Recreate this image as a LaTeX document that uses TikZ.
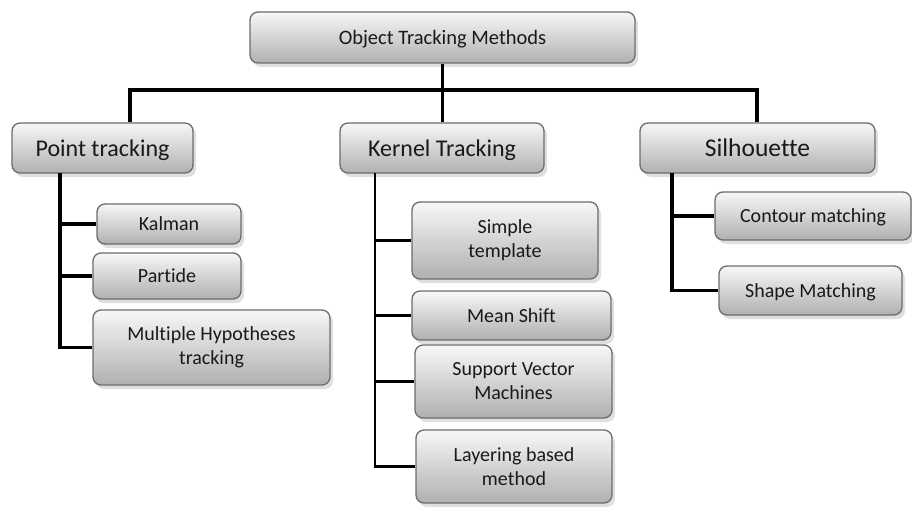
\documentclass[tikz,border=0pt]{standalone}
\usepackage{fontspec}
\setmainfont{Carlito}[Ligatures=NoCommon]
\usetikzlibrary{shadows}

\tikzset{
  box/.style={draw=gray!85!black, line width=1.3pt, rounded corners=8pt,
    top color=gray!6, bottom color=gray!62, text=black!90,
    drop shadow={opacity=0.25, shadow xshift=3pt, shadow yshift=-4pt},
    inner sep=0pt, align=center, font=\fontsize{20}{24}\selectfont},
  size/.style 2 args={minimum width=#1pt, minimum height=#2pt},
  low/.style={text depth=0pt},
  link/.style={line width=3.5pt},
  thinlink/.style={line width=2.3pt}
}

\begin{document}
\begin{tikzpicture}[x=1pt, y=-1pt]
  \useasboundingbox[fill=white] (0,0) rectangle (912,508);

  % top level
  \node[box, low, size={385}{51}, font=\fontsize{20.5}{22}\selectfont] (root) at (442.5,37.5) {Object Tracking Methods};

  % second level
  \node[box, low, size={181}{50}, font=\fontsize{24}{26}\selectfont] (point) at (102.5,148) {Point tracking};
  \node[box, low, size={204}{50}, font=\fontsize{24}{26}\selectfont] (kernel) at (442,148) {Kernel Tracking};
  \node[box, low, size={235}{50}, font=\fontsize{25.5}{28}\selectfont] (sil) at (757.5,148) {Silhouette};

  % point tracking children
  \node[box, low, size={144}{40}] (kalman) at (169,224) {Kalman};
  \node[box, low, size={148}{46}] (partide) at (167,276) {Partide};
  \node[box, size={237}{75}] (mht) at (211.5,347.5) {Multiple Hypotheses\\tracking};

  % kernel tracking children
  \node[box, size={186}{77}] (simple) at (505,240.5) {Simple\\template};
  \node[box, low, size={199}{49}] (mean) at (511.5,315.5) {Mean Shift};
  \node[box, size={197}{73}] (svm) at (513.5,381.5) {Support Vector\\Machines};
  \node[box, size={196}{73}] (layer) at (514,466.5) {Layering based\\method};

  % silhouette children
  \node[box, low, size={196}{48}] (contour) at (813,216) {Contour matching};
  \node[box, low, size={183}{49}] (shape) at (810.5,290.5) {Shape Matching};

  % bus
  \coordinate (busL) at (130,90);
  \coordinate (busR) at (757,90);
  \draw[link] (busL |- point.north) -- (busL) -- (busR) -- (busR |- sil.north);
  \draw[link] (root.south) -- (root.south |- kernel.north);

  % trunks
  \coordinate (ptrunk) at (60,173);
  \coordinate (ktrunk) at (375,173);
  \coordinate (strunk) at (672,173);

  \draw[link] (ptrunk) |- (mht.west);
  \foreach \n in {kalman,partide}
    \draw[link] (ptrunk |- \n.west) -- (\n.west);

  \draw[thinlink] (ktrunk) |- (layer.west);
  \draw[link] (ktrunk |- layer.west) -- (layer.west);
  \draw[thinlink] (ktrunk |- mean.west) -- (mean.west);
  \foreach \n in {simple,svm}
    \draw[link] (ktrunk |- \n.west) -- (\n.west);

  \draw[link] (strunk) |- (shape.west);
  \draw[link] (strunk |- contour.west) -- (contour.west);
\end{tikzpicture}
\end{document}
